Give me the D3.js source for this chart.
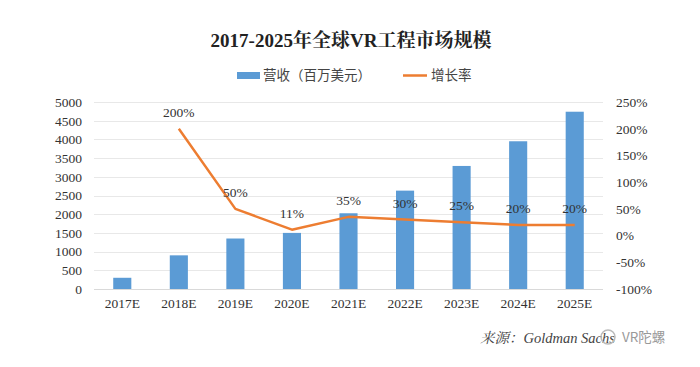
<!DOCTYPE html>
<html><head><meta charset="utf-8">
<script src="https://cdn.jsdelivr.net/npm/d3@7"></script>
<style>body{margin:0;background:#fff;} svg{display:block;}</style>
</head><body>
<svg id="c" width="700" height="367"></svg>
<script>
const categories = ["2017E","2018E","2019E","2020E","2021E","2022E","2023E","2024E","2025E"];
const revenue = [300, 900, 1350, 1500, 2025, 2630, 3290, 3950, 4740];
const growth = [null, 200, 50, 11, 35, 30, 25, 20, 20];
const leftTicks = [0,500,1000,1500,2000,2500,3000,3500,4000,4500,5000];
const rightTicks = [-100,-50,0,50,100,150,200,250];
const titleText = "2017-2025年全球VR工程市场规模";
const legendLabels = ["营收（百万美元）","增长率"];
const sourceText = "来源：Goldman Sachs";

const svg = d3.select("#c");
const serif = "'Liberation Serif','Times New Roman','Noto Serif CJK SC','Noto Sans CJK SC',serif";
const cjk = "'Noto Sans CJK SC',sans-serif";
const blue = "#5B9BD5", orange = "#ED7D31";

const x = d3.scaleBand().domain(categories).range([94, 603]).paddingInner(0.68).paddingOuter(0.34);
const yL = d3.scaleLinear().domain([0,5000]).range([289,102]);
const yR = d3.scaleLinear().domain([-100,250]).range([289,102]);

// title
svg.append("text").attr("x",351).attr("y",47).attr("text-anchor","middle")
  .attr("font-family","'Liberation Serif','Noto Serif CJK SC','Noto Sans CJK SC',serif")
  .attr("font-weight","bold").attr("font-size",19).attr("fill","#222").text(titleText);

// legend
svg.append("rect").attr("x",237).attr("y",72).attr("width",23).attr("height",7).attr("fill",blue);
svg.append("text").attr("x",263).attr("y",80).attr("font-family",cjk).attr("font-size",13.5).attr("fill","#444").text(legendLabels[0]);
svg.append("line").attr("x1",403).attr("x2",427).attr("y1",75.5).attr("y2",75.5).attr("stroke",orange).attr("stroke-width",2.5);
svg.append("text").attr("x",431).attr("y",80).attr("font-family",cjk).attr("font-size",13.5).attr("fill","#444").text(legendLabels[1]);

// gridlines
svg.append("g").selectAll("line").data(leftTicks).join("line")
  .attr("x1",94).attr("x2",603).attr("y1",d=>Math.round(yL(d))+0.5).attr("y2",d=>Math.round(yL(d))+0.5)
  .attr("stroke",d=>d===0?"#d9d9d9":"#e8e8e8").attr("stroke-width",1);

// left axis
const gl = svg.append("g").attr("transform","translate(82,0)")
  .call(d3.axisLeft(yL).tickValues(leftTicks).tickSize(0).tickPadding(0).tickFormat(d3.format("d")));
gl.select(".domain").remove();
gl.selectAll("text").attr("font-family",serif).attr("font-size",13.5).attr("fill","#333");

// right axis
const gr = svg.append("g").attr("transform","translate(616,0)")
  .call(d3.axisRight(yR).tickValues(rightTicks).tickSize(0).tickPadding(0).tickFormat(d=>d+"%"));
gr.select(".domain").remove();
gr.selectAll("text").attr("font-family",serif).attr("font-size",13.5).attr("fill","#333");

// bottom axis
const gb = svg.append("g").attr("transform","translate(0,294)")
  .call(d3.axisBottom(x).tickSize(0).tickPadding(4));
gb.select(".domain").remove();
gb.selectAll("text").attr("font-family",serif).attr("font-size",13.5).attr("fill","#333");

// bars
svg.append("g").selectAll("rect").data(categories).join("rect")
  .attr("x",d=>x(d)).attr("width",x.bandwidth())
  .attr("y",(d,i)=>yL(revenue[i])).attr("height",(d,i)=>yL(0)-yL(revenue[i]))
  .attr("fill",blue);

// line
const pts = categories.map((c,i)=>({c, v:growth[i]})).filter(p=>p.v!==null);
const line = d3.line().x(p=>x(p.c)+x.bandwidth()/2).y(p=>yR(p.v));
svg.append("path").datum(pts).attr("d",line).attr("fill","none")
  .attr("stroke",orange).attr("stroke-width",2.5).attr("stroke-linejoin","round");

// labels
svg.append("g").selectAll("text").data(pts).join("text")
  .attr("x",p=>x(p.c)+x.bandwidth()/2).attr("y",p=>yR(p.v)-12)
  .attr("text-anchor","middle").attr("font-family",serif).attr("font-size",13.5).attr("fill","#333")
  .text(p=>p.v+"%");

// source
svg.append("text").attr("x",480).attr("y",343).attr("font-family",serif).attr("font-style","italic")
  .attr("font-size",14.5).attr("fill","#444").text(sourceText);
// watermark
svg.append("circle").attr("cx",608).attr("cy",337).attr("r",7).attr("fill","none").attr("stroke","#bbb").attr("stroke-width",1.5);
svg.append("text").attr("x",622).attr("y",342).attr("font-family",cjk).attr("font-size",13.5).attr("fill","#999").text("VR陀螺");
</script>
</body></html>
